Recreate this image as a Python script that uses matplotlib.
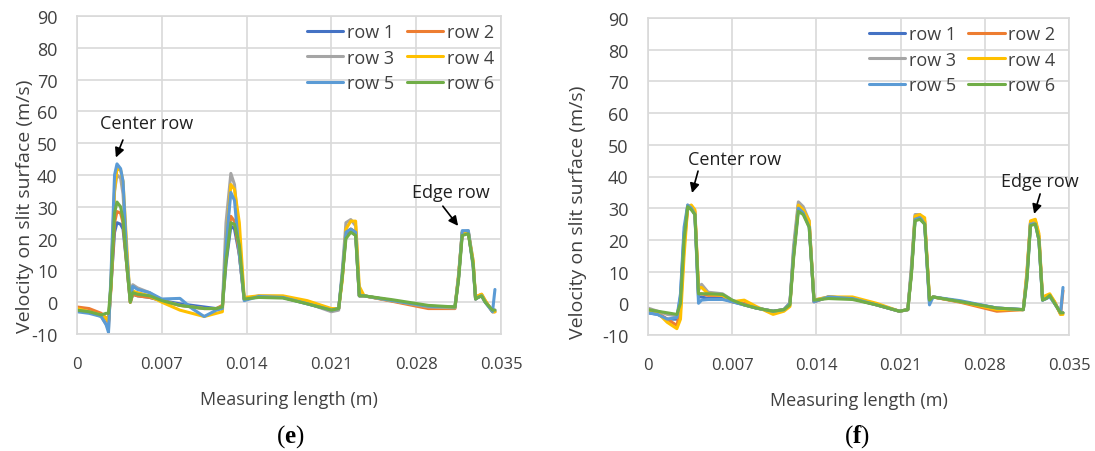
import matplotlib
matplotlib.use("Agg")
import matplotlib.pyplot as plt

# ---------------------------------------------------------
# Data
# ---------------------------------------------------------
row_labels = ["row 1", "row 2", "row 3", "row 4", "row 5", "row 6"]
row_colors = ["#4472C4", "#ED7D31", "#A5A5A5", "#FFC000", "#5B9BD5", "#70AD47"]

x_ticks = [0, 0.007, 0.014, 0.021, 0.028, 0.035]
x_tick_labels = ["0", "0.007", "0.014", "0.021", "0.028", "0.035"]
y_ticks = [-10, 0, 10, 20, 30, 40, 50, 60, 70, 80, 90]

# panel (e)
x_e = [0.0000, 0.0010, 0.0020, 0.0024, 0.0026, 0.0028, 0.0031, 0.0033, 0.0036, 0.0038,
       0.0041, 0.0044, 0.0046, 0.0050, 0.0060, 0.0070, 0.0085, 0.0095, 0.0105, 0.0115,
       0.0120, 0.0123, 0.0127, 0.0130, 0.0134, 0.0138, 0.0150, 0.0170, 0.0190, 0.0210,
       0.0216, 0.0219, 0.0222, 0.0226, 0.0230, 0.0233, 0.0237, 0.0260, 0.0290, 0.0312,
       0.0315, 0.0318, 0.0323, 0.0327, 0.0329, 0.0331, 0.0334, 0.0337, 0.0343, 0.0345]

e_row1 = [-2.5, -3, -4, -5, -6, 5, 22, 25, 24.5, 23, 12, 0, 2.5, 2, 1.5, 0.5, -0.5, -1, -1.5, -2,
          -1.5, 12, 24, 23, 15, 1, 1.8, 1.5, -0.5, -2.5, -2, 8, 21, 22.5, 21, 2, 2, 0.5, -1.3, -1.5,
          8, 21.5, 22, 12, 1, 1.5, 2, 0, -2.5, -2.5]
e_row2 = [-1.5, -2, -3.5, -5, -6.5, 4, 25, 28.5, 28, 25, 12, 0, 2.5, 2, 1.5, 0.5, -1, -1.5, -2, -2,
          -1, 15, 27, 25.5, 15, 1, 1.8, 1.5, -0.3, -2.5, -2, 8, 22, 23, 22, 2, 2, 0.3, -2, -2,
          8, 22, 22, 12, 1, 2, 2.5, 0.5, -3, -3]
e_row3 = [-2.5, -3, -4.5, -7, -8.5, 6, 35, 40, 39, 34, 15, 1, 5.5, 4.5, 3, 0.5, -1, -1.5, -2, -2,
          -1.5, 25, 40.5, 37, 20, 1, 2, 1.8, -0.3, -3, -2.5, 10, 25, 26, 24, 3, 2, 0.5, -1.5, -1.8,
          8, 22, 22.5, 13, 1, 1.5, 2, 0, -3, -3]
e_row4 = [-2, -3, -4, -5, -6, 5, 35, 42, 41.5, 38, 18, 0, 3.5, 3, 2, 0, -2.5, -3.5, -4.5, -3.5,
          -3, 18, 37, 35.5, 25, 1.5, 2, 2, 0.5, -2, -2, 7, 23, 25.5, 25.5, 5, 2, 0.5, -1.3, -1.5,
          9, 22, 22, 13, 1.5, 2, 2.5, 0.5, -3, -3]
e_row5 = [-3, -3.5, -4.5, -7, -9.5, 8, 40, 43.5, 42, 38, 15, 0.5, 5, 4, 3, 1, 1.2, -2, -4.5, -2.5,
          -2, 18, 34.5, 32, 15, 0.5, 1.8, 1.5, -0.5, -2.5, -2, 9, 22, 23, 22, 2, 2, 0.5, -1.3, -1.5,
          8, 22.5, 22.5, 11, 1, 1.5, 2, 0, -3, 4]
e_row6 = [-2.5, -3, -4, -3.5, -3.5, 5, 28, 31.5, 30, 26, 12, 0, 3, 2.5, 2, 0.5, -1, -1.5, -2, -2,
          -1.5, 13, 25, 24.5, 18, 1, 1.5, 1.3, -0.5, -2.5, -2, 8, 20, 22, 21, 2, 2, 0.8, -1, -1.5,
          7, 21, 21.5, 12, 1, 1.5, 2, 0, -2.5, -2.5]

# panel (f)
x_f = [0.0000, 0.0008, 0.0016, 0.0024, 0.0027, 0.0030, 0.0033, 0.0036, 0.0039, 0.0042,
       0.00445, 0.0050, 0.0062, 0.0070, 0.0080, 0.0090, 0.0104, 0.0113, 0.0118, 0.0121,
       0.0125, 0.0129, 0.0134, 0.0138, 0.0150, 0.0170, 0.0190, 0.0209, 0.0216, 0.0219,
       0.0222, 0.0226, 0.0230, 0.0234, 0.0237, 0.0260, 0.0290, 0.0312, 0.0315, 0.0318,
       0.0322, 0.0325, 0.0328, 0.0331, 0.0334, 0.0338, 0.0343, 0.0345]

f_row1 = [-3, -3.5, -5, -5, 2, 22, 30.5, 30, 28, 2, 2, 1.5, 1.5, 0.5, -0.5, -1.5, -2.5, -2, 0, 15,
          30, 29, 25, 0.5, 2, 1.5, -0.5, -2.5, -2, 10, 26.5, 27, 25, 0.5, 2, 0.5, -1.5, -2,
          8, 25, 25.5, 20, 1, 1.5, 2.5, 0, -3, -3]
f_row2 = [-2, -3, -5, -7, -2, 18, 30, 30.5, 29, 3, 3, 2.5, 2.5, 0.5, 0, -1.5, -2.5, -2, 0, 15,
          31, 29.5, 25, 0.5, 2, 1.5, -0.5, -2.5, -2, 10, 27, 27.5, 26, 1, 2, 0.3, -2.5, -2,
          9, 25.5, 26, 21, 1.5, 2, 2.5, 0.5, -3.5, 4]
f_row3 = [-1.5, -2.5, -3.5, -4, 0, 20, 31, 30, 28.5, 4, 6, 3.5, 3, 1, -0.5, -1.5, -2.5, -2, 0, 18,
          32, 30.5, 26, 1, 2, 1.5, -0.3, -2.5, -2, 12, 28, 28, 26, 1, 2, 0.5, -1.5, -2,
          9, 25.5, 26, 21, 1.5, 2, 2.5, 0, -3, -3]
f_row4 = [-2, -3, -6, -8, -5, 15, 30.5, 31, 29.5, 5, 5, 3, 2.5, 0.5, 1, -1, -3.5, -2.5, -1, 16,
          31, 29.5, 26, 1, 2, 2, 0, -2.5, -2, 10, 27.5, 28, 27, 1.5, 2, 0.5, -2, -2,
          10, 26, 26.5, 22, 2, 2.5, 3, 0.5, -3.5, -3.5]
f_row5 = [-3, -3.5, -5, -4.5, 3, 24, 31, 30, 28, 0, 1, 1.2, 1.2, 0.5, -0.5, -1.5, -2.5, -2, 0, 16,
          30, 28.5, 24, 0.5, 2, 1.5, -0.5, -2.5, -2, 10, 26.5, 27, 25, -0.5, 2, 0.8, -1.5, -2,
          8, 25, 25, 20, 1, 1.5, 2, 0, -3, 5]
f_row6 = [-2, -2.5, -3, -3.5, 0, 20, 30.5, 29.5, 28, 3, 3, 3, 2.8, 1, -0.5, -1.5, -2.5, -2, -0.5, 14,
          29, 28, 24, 1, 1.5, 1.2, -0.5, -2.5, -2, 9, 26, 26.5, 25, 1, 2, 0.5, -1.5, -2,
          7, 24.5, 25, 20, 1, 1.5, 2.5, 0, -3, -3]

FIG_W, FIG_H = 1095, 452
TEXT_COLOR = "#404040"
GRID_COLOR = "#D9D9D9"
FONT = "Open Sans"


def px_axes(left, top, right, bottom):
    # convert a pixel box into figure fractions
    return [left / FIG_W, 1 - bottom / FIG_H, (right - left) / FIG_W, (bottom - top) / FIG_H]


def draw_panel(fig, rect, x, rows, legend_anchor, ylabel_pos, annotations, tag, tag_x):
    ax = fig.add_axes(rect)
    lines = []
    for y, label, color in zip(rows, row_labels, row_colors):
        ln, = ax.plot(x, y, color=color, lw=2.2, label=label, solid_joinstyle="round",
                      solid_capstyle="round")
        lines.append(ln)

    ax.set_xlim(0, 0.035)
    ax.set_ylim(-10, 90)
    ax.set_xticks(x_ticks)
    ax.set_xticklabels(x_tick_labels)
    ax.set_yticks(y_ticks)
    ax.tick_params(axis="x", length=0, pad=16, labelsize=12, labelcolor=TEXT_COLOR)
    ax.tick_params(axis="y", length=0, pad=14, labelsize=13, labelcolor=TEXT_COLOR)
    for lbl in ax.get_xticklabels() + ax.get_yticklabels():
        lbl.set_fontfamily(FONT)
    ax.grid(True, color=GRID_COLOR, lw=1.2)
    ax.set_axisbelow(True)
    for sp in ax.spines.values():
        sp.set_color(GRID_COLOR)
        sp.set_linewidth(1.2)

    ax.set_xlabel("Measuring length (m)", fontsize=13, color=TEXT_COLOR, family=FONT,
                  labelpad=13)
    ax.set_ylabel("Velocity on slit surface (m/s)", fontsize=14, color=TEXT_COLOR,
                  family=FONT, va="center")
    ax.yaxis.set_label_coords(*ylabel_pos)

    # Excel fills the legend row by row
    order = [0, 2, 4, 1, 3, 5]
    leg = ax.legend([lines[i] for i in order], [row_labels[i] for i in order],
                    ncol=2, loc="upper right", bbox_to_anchor=legend_anchor,
                    frameon=False, handlelength=2.0, handletextpad=0.2,
                    columnspacing=0.7, labelspacing=0.42, borderaxespad=0,
                    prop={"family": FONT, "size": 13})
    for t in leg.get_texts():
        t.set_color(TEXT_COLOR)

    # arrows with labels
    for text, txy, tail, head in annotations:
        ax.text(txy[0], txy[1], text, ha="center", va="center", fontsize=13,
                family=FONT, color="#202020", clip_on=False)
        ax.annotate("", xy=head, xytext=tail,
                    arrowprops=dict(arrowstyle="-|>", color="black", lw=1.2,
                                    mutation_scale=14, shrinkA=0, shrinkB=0))

    fig.text(tag_x / FIG_W, 1 - 437 / FIG_H, r"$\mathrm{(}\mathbf{" + tag + r"}\mathrm{)}$",
             ha="center", va="center", fontsize=18)
    return ax


def main():
    plt.rcParams["axes.unicode_minus"] = False
    plt.rcParams["mathtext.fontset"] = "custom"
    plt.rcParams["mathtext.rm"] = "Liberation Serif"
    plt.rcParams["mathtext.bf"] = "Liberation Serif:bold"

    fig = plt.figure(figsize=(FIG_W / 100, FIG_H / 100), dpi=100)

    # ---------------------------------------------------------
    # Panel (e)
    # ---------------------------------------------------------
    ann_e = [
        ("Center row", (0.00576, 56.5), (0.00379, 51.0), (0.00321, 45.5)),
        ("Edge row", (0.0309, 34.5), (0.0302, 30.2), (0.03146, 24.0)),
    ]
    draw_panel(fig, px_axes(77, 17, 501, 335), x_e,
               [e_row1, e_row2, e_row3, e_row4, e_row5, e_row6],
               (1.0, 1.0), (-0.123, 0.405), ann_e, "e", 290)

    # ---------------------------------------------------------
    # Panel (f)
    # ---------------------------------------------------------
    ann_f = [
        ("Center row", (0.00723, 45.5), (0.00416, 41.7), (0.00366, 34.8)),
        ("Edge row", (0.0326, 38.6), (0.0326, 34.5), (0.0321, 28.2)),
    ]
    draw_panel(fig, px_axes(648, 19, 1069, 336), x_f,
               [f_row1, f_row2, f_row3, f_row4, f_row5, f_row6],
               (0.985, 1.0), (-0.166, 0.39), ann_f, "f", 857)

    fig.savefig("out.png", dpi=100)
    plt.close(fig)


if __name__ == "__main__":
    main()
